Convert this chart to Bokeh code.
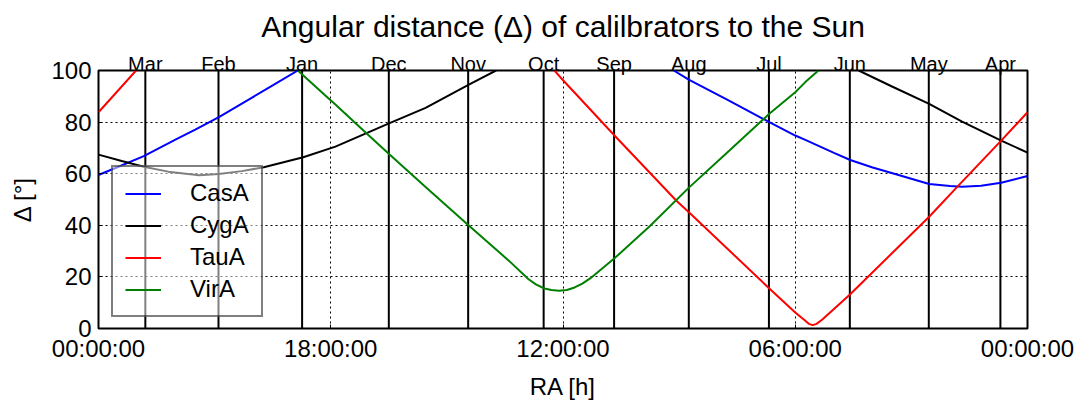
from bokeh.plotting import figure
from bokeh.models import Range1d, FixedTicker, LinearAxis
from bokeh.embed import file_html
from bokeh.resources import INLINE

NaN = float("nan")

# Month markers: Sun's right ascension (hours) on the 1st of each month
month_names = ["Jan", "Feb", "Mar", "Apr", "May", "Jun", "Jul", "Aug", "Sep", "Oct", "Nov", "Dec"]
month_ra = [18.74, 20.90, 22.79, 0.70, 2.55, 4.59, 6.68, 8.75, 10.68, 12.50, 14.45, 16.50]

x_ticks = [24, 18, 12, 6, 0]
x_tick_labels = ["00:00:00", "18:00:00", "12:00:00", "06:00:00", "00:00:00"]
y_ticks = [0, 20, 40, 60, 80, 100]

# Angular distance (deg) vs RA (h); NaN = off-chart gap
casa_ra = [24.0, 23.5, 22.83, 22.0, 21.5, 20.89, 20.0, 19.5, 18.85, NaN,
           9.14, 8.74, 7.76, 6.67, 6.0, 5.74, 5.0, 4.58, 4.0, 3.42, 2.54, 2.0, 1.69, 1.2, 0.68, 0.0]
casa_d = [59.5, 62.6, 66.8, 73.3, 77.1, 81.9, 89.8, 94.2, 100.0, NaN,
          100.0, 96.4, 88.7, 80.0, 74.8, 73.1, 68.1, 65.3, 62.4, 59.9, 56.0, 55.2, 54.9, 55.3, 56.5, 59.1]

cyga_ra = [24.0, 23.4, 22.83, 22.2, 21.4, 20.89, 20.3, 19.73, 18.71, 17.88, 17.0, 16.48, 15.55, 14.42, 13.73, NaN,
           4.36, 3.5, 2.54, 1.69, 0.68, 0.0]
cyga_d = [67.4, 64.9, 62.7, 60.8, 59.4, 59.9, 61.0, 62.5, 66.4, 70.5, 76.2, 79.6, 85.5, 94.6, 100.0, NaN,
          100.0, 93.8, 87.1, 80.2, 72.8, 68.2]

taua_ra = [24.0, 23.03, NaN,
           12.22, 12.07, 10.67, 9.07, 8.74, 6.67, 6.0, 5.74, 5.65, 5.55, 5.45, 5.3, 4.58, 2.54, 1.81, 0.68, 0.0]
taua_d = [83.8, 100.0, NaN,
          100.0, 97.4, 74.8, 49.5, 45.0, 15.5, 6.2, 3.0, 1.8, 1.3, 1.8, 3.5, 13.3, 43.3, 55.0, 72.8, 83.8]

vira_ra = [18.85, 18.14, 17.88, 17.03, 16.48, 15.5, 14.42, 13.4, 12.89, 12.7, 12.48, 12.3, 12.1, 11.9,
           11.7, 11.5, 11.29, 10.67, 9.76, 8.74, 7.7, 6.67, 6.0, 5.74, 5.40]
vira_d = [100.0, 90.3, 86.8, 75.0, 67.4, 54.2, 39.7, 26.3, 19.1, 17.1, 15.5, 14.9, 14.6, 14.9,
          15.9, 17.4, 19.5, 27.2, 39.6, 54.7, 69.0, 83.2, 91.6, 95.5, 100.0]

series = [
    ("CasA", casa_ra, casa_d, "#0000ff"),
    ("CygA", cyga_ra, cyga_d, "#000000"),
    ("TauA", taua_ra, taua_d, "#ff0000"),
    ("VirA", vira_ra, vira_d, "#008000"),
]

FONT = "Liberation Sans"

p = figure(
    frame_width=929, frame_height=258,
    min_border_left=98, min_border_right=55, min_border_top=70, min_border_bottom=72,
    x_range=Range1d(24, 0), y_range=Range1d(0, 100),
    output_backend="svg", toolbar_location=None,
    title="Angular distance (\u0394) of calilbrators to the Sun",
)
p.background_fill_color = "white"
p.border_fill_color = "white"
p.outline_line_color = "black"
p.outline_line_width = 2

p.title.align = "center"
p.title.text_font = FONT
p.title.text_font_size = "30px"
p.title.text_font_style = "normal"
p.title.text_color = "black"
p.title.standoff = 13

# bottom (RA) and left (distance) axes
xax = p.below[0]
yax = p.left[0]
xax.ticker = FixedTicker(ticks=x_ticks)
xax.major_label_overrides = {t: lab for t, lab in zip(x_ticks, x_tick_labels)}
yax.ticker = FixedTicker(ticks=y_ticks)
xax.axis_label = "RA [h]"
yax.axis_label = "\u0394 [\u00b0]"
for ax in (xax, yax):
    ax.axis_line_color = None
    ax.major_tick_in = 4
    ax.major_tick_out = 0
    ax.major_tick_line_color = "black"
    ax.minor_tick_line_color = None
    ax.major_label_text_font = FONT
    ax.major_label_text_font_size = "24px"
    ax.major_label_text_color = "black"
    ax.axis_label_text_font = FONT
    ax.axis_label_text_font_size = "24px"
    ax.axis_label_text_font_style = "normal"
    ax.axis_label_text_color = "black"
xax.major_label_standoff = 6
xax.axis_label_standoff = 8
yax.major_label_standoff = 7
yax.axis_label_standoff = 12

# month axis on top
top = LinearAxis(ticker=FixedTicker(ticks=month_ra),
                 major_label_overrides={r: n for r, n in zip(month_ra, month_names)})
top.axis_line_color = None
top.major_tick_line_color = None
top.minor_tick_line_color = None
top.major_tick_in = 0
top.major_tick_out = 0
top.major_label_standoff = -4
top.major_label_text_font = FONT
top.major_label_text_font_size = "20px"
top.major_label_text_color = "black"
p.add_layout(top, "above")

for g in (p.xgrid, p.ygrid):
    g.grid_line_color = "black"
    g.grid_line_dash = "2 3"
    g.grid_line_width = 1
p.xgrid.ticker = FixedTicker(ticks=x_ticks)
p.ygrid.ticker = FixedTicker(ticks=y_ticks)

# month marker lines
p.segment(x0=month_ra, y0=0, x1=month_ra, y1=100, line_color="black", line_width=2)

for name, ra, d, col in series:
    p.line(ra, d, line_color=col, line_width=2, legend_label=name)

lg = p.legend[0]
lg.location = (13, 11)
lg.label_text_font = FONT
lg.label_text_font_size = "24px"
lg.label_text_color = "black"
lg.glyph_width = 36
lg.glyph_height = 27
lg.label_height = 27
lg.label_standoff = 29
lg.spacing = 4
lg.padding = 12
lg.margin = 0
lg.background_fill_color = "white"
lg.background_fill_alpha = 0.5
lg.border_line_color = "black"
lg.border_line_alpha = 0.5
lg.border_line_width = 2

open("out.html", "w").write(file_html(p, INLINE))
